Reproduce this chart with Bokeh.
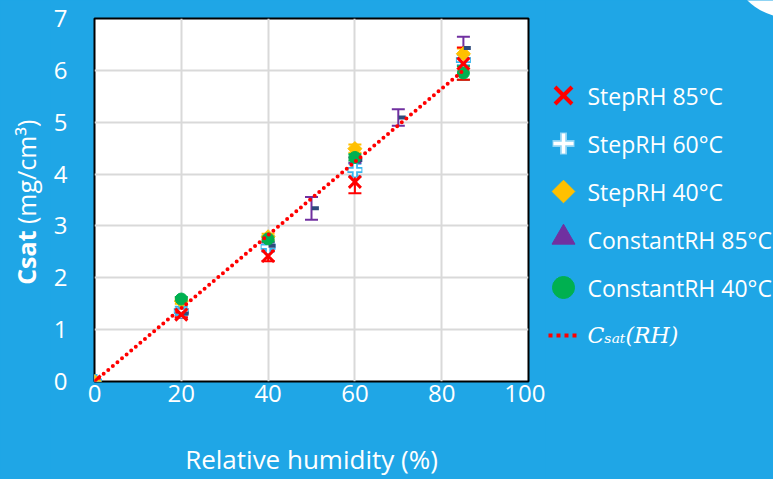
import math
from bokeh.plotting import figure
from bokeh.layouts import row
from bokeh.models import (ColumnDataSource, Whisker, TeeHead, Label, Range1d, FixedTicker)
from bokeh.transform import dodge
from bokeh.core.properties import value
from bokeh.embed import file_html
from bokeh.resources import INLINE

# Saturation concentration vs relative humidity
rh_step85 = [0, 20, 40, 60, 85]
csat_step85 = [0.0, 1.29, 2.42, 3.85, 6.13]
err_step85 = [0.0, 0.05, 0.10, 0.22, 0.31]

rh_step60 = [0, 20, 40, 60, 85]
csat_step60 = [0.0, 1.36, 2.60, 4.08, 6.20]
err_step60 = [0.0, 0.08, 0.10, 0.12, 0.10]

rh_step40 = [0, 20, 40, 60, 85]
csat_step40 = [0.0, 1.55, 2.79, 4.49, 6.32]
err_step40 = [0.0, 0.05, 0.06, 0.08, 0.10]

rh_const85 = [20, 40, 50, 60, 70, 85]
csat_const85 = [1.31, 2.62, 3.34, 4.27, 5.09, 6.43]
err_const85 = [0.08, 0.06, 0.22, 0.05, 0.16, 0.22]

rh_const40 = [20, 40, 60, 85]
csat_const40 = [1.59, 2.75, 4.32, 5.95]
err_const40 = [0.04, 0.05, 0.06, 0.13]

rh_fit = [0, 85]
csat_fit = [0.0, 6.0]

x_ticks = [0, 20, 40, 60, 80, 100]
y_ticks = [0, 1, 2, 3, 4, 5, 6, 7]

series_names = ["StepRH 85°C", "StepRH 60°C", "StepRH 40°C",
                "ConstantRH 85°C", "ConstantRH 40°C"]
fit_name = "Cₛₐₜ(RH)"

BG = "#1FA6E6"
FONT = "Open Sans"
H = 479
TOP = 18
BOTTOM = 97
LEFT_W = 50
MAIN_W = 495
RIGHT_W = 773 - LEFT_W - MAIN_W

C85 = "#FF0000"
C60 = "#38B6EE"
C40 = "#FFC000"
CP = "#7030A0"
CG = "#00B050"
NAVY = "#2E4B7C"


def blank_panel(w):
    # side panel whose data units are pixels measured from the bottom of the canvas
    f = figure(width=w, height=H, output_backend="svg", toolbar_location=None,
               x_range=Range1d(0, w), y_range=Range1d(0, H), min_border=0,
               x_axis_type=None, y_axis_type=None, frame_align=False)
    f.background_fill_color = BG
    f.border_fill_color = BG
    f.outline_line_color = None
    f.grid.visible = False
    return f


# ---- main chart ----
p = figure(width=MAIN_W, height=H, output_backend="svg", toolbar_location=None,
           x_range=Range1d(0, 100), y_range=Range1d(0, 7), frame_align=False,
           min_border_left=93 - LEFT_W, min_border_right=MAIN_W - (528 - LEFT_W),
           min_border_top=TOP, min_border_bottom=BOTTOM)
p.background_fill_color = "white"
p.border_fill_color = BG
p.outline_line_color = "black"
p.outline_line_width = 2

for ax in (p.xaxis[0], p.yaxis[0]):
    ax.axis_line_color = None
    ax.major_tick_line_color = None
    ax.minor_tick_line_color = None
    ax.major_label_text_color = "white"
    ax.major_label_text_font = FONT
    ax.major_label_text_font_size = "24px"
p.xaxis.ticker = FixedTicker(ticks=x_ticks)
p.yaxis.ticker = FixedTicker(ticks=y_ticks)
p.yaxis.major_label_standoff = 21
p.xaxis.major_label_standoff = -3
p.xaxis.axis_label = "Relative humidity (%)"
p.xaxis.axis_label_text_color = "white"
p.xaxis.axis_label_text_font = FONT
p.xaxis.axis_label_text_font_size = "26px"
p.xaxis.axis_label_text_font_style = "normal"
p.xaxis.axis_label_standoff = 36

p.grid.grid_line_color = "#D9D9D9"
p.grid.grid_line_width = 2


def errbars(xs, ys, es, color):
    keep = [i for i, e in enumerate(es) if e > 0]
    src = ColumnDataSource(dict(
        x=[xs[i] for i in keep],
        lower=[ys[i] - es[i] for i in keep],
        upper=[ys[i] + es[i] for i in keep]))
    w = Whisker(base="x", lower="lower", upper="upper", source=src,
                dimension="height", line_color=color, line_width=2,
                upper_head=TeeHead(size=13, line_color=color, line_width=2),
                lower_head=TeeHead(size=13, line_color=color, line_width=2))
    p.add_layout(w)


errbars(rh_step60, csat_step60, err_step60, C60)
errbars(rh_step40, csat_step40, err_step40, C40)
errbars(rh_const85, csat_const85, err_const85, CP)
errbars(rh_const40, csat_const40, err_const40, CG)
errbars(rh_step85, csat_step85, err_step85, C85)

s60 = ColumnDataSource(dict(x=rh_step60, y=csat_step60))
p.scatter("x", "y", source=s60, marker="cross", size=15, line_color=C60, line_width=6)
p.scatter("x", "y", source=s60, marker="cross", size=13, line_color="white", line_width=2.5)

s40 = ColumnDataSource(dict(x=rh_step40, y=csat_step40))
p.scatter("x", "y", source=s40, marker="square", angle=math.pi / 4, size=10,
          fill_color=C40, line_color=C40)

sp = ColumnDataSource(dict(x=rh_const85, y=csat_const85))
p.rect(x=dodge("x", 0.9), y="y", source=sp, width=7, height=4,
       width_units="screen", height_units="screen", fill_color=NAVY, line_color=None)

sg = ColumnDataSource(dict(x=rh_const40, y=csat_const40))
p.scatter("x", "y", source=sg, marker="circle", size=12, fill_color=CG, line_color=CG)

sfit = ColumnDataSource(dict(x=rh_fit, y=csat_fit))
p.line("x", "y", source=sfit, line_color="#FF0000", line_width=4,
       line_dash="0 6", line_cap="round")

s85 = ColumnDataSource(dict(x=rh_step85, y=csat_step85))
p.scatter("x", "y", source=s85, marker="x", size=17, line_color=C85, line_width=3)

# ---- y-axis title panel ----
pl = blank_panel(LEFT_W)
pl.add_layout(Label(x=25, y=H - 230, text="Csat", angle=math.pi / 2, text_align="right",
                    text_baseline="middle", text_color="white", text_font=FONT,
                    text_font_style="bold", text_font_size="25px"))
pl.add_layout(Label(x=25, y=H - 230, text="\u00a0(mg/cm³)", angle=math.pi / 2,
                    text_align="left", text_baseline="middle", text_color="white",
                    text_font=FONT, text_font_size="25px"))

# ---- legend panel ----
pr = blank_panel(RIGHT_W)
x0 = LEFT_W + MAIN_W
# white rounded corner of the slide, top right
pr.circle(x=[788 - x0], y=[H + 41], radius=58, fill_color="white", line_color=None)

# legend rows: swatch column and label column, 48 px apart
row_y = [H - (95 + 48 * i) for i in range(6)]
sw_x = 563 - x0
tx_x = 587 - x0

pr.scatter(x=[sw_x], y=[row_y[0]], marker="x", size=24, line_color=C85, line_width=4)
pr.scatter(x=[sw_x], y=[row_y[1]], marker="cross", size=22, line_color="#8ED4F5", line_width=7)
pr.scatter(x=[sw_x], y=[row_y[1]], marker="cross", size=20, line_color="white", line_width=3.5)
pr.scatter(x=[sw_x], y=[row_y[2]], marker="square", angle=math.pi / 4, size=16,
           fill_color=C40, line_color=C40)
pr.scatter(x=[sw_x], y=[row_y[3] + 2], marker="triangle", size=23, fill_color=CP, line_color=CP)
pr.scatter(x=[sw_x], y=[row_y[4]], marker="circle", size=22, fill_color=CG, line_color=CG)
pr.segment(x0=[548 - x0], x1=[578 - x0], y0=[row_y[5]], y1=[row_y[5]],
           line_color="#FF0000", line_width=4, line_dash="4 4")

pr.text(x=[tx_x] * 5, y=row_y[:5], text=series_names, text_color="white",
        text_font=value(FONT), text_font_size="23px", text_baseline="middle",
        text_align="left")
pr.text(x=[tx_x], y=[row_y[5]], text=[fit_name], text_color="white",
        text_font=value("DejaVu Serif"), text_font_style="italic",
        text_font_size="22px", text_baseline="middle", text_align="left")

layout = row(pl, p, pr, spacing=0)
html = file_html(layout, INLINE)
html = html.replace("</head>",
                    "<style>html,body{margin:0;background:%s;}</style></head>" % BG, 1)
open("out.html", "w").write(html)
